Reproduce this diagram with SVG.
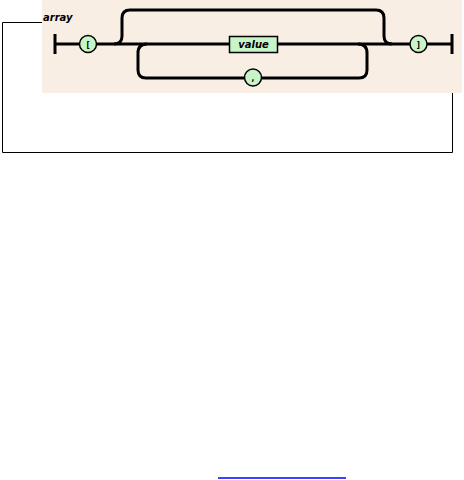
<svg xmlns="http://www.w3.org/2000/svg" width="464" height="480" viewBox="0 0 464 480">
<style>
.track{fill:none;stroke:#000;stroke-width:3}
.term{fill:#c8f5c8;stroke:#000;stroke-width:1.5}
.nt{fill:#c8f5c8;stroke:#000;stroke-width:1.5}
.lbl{font-family:"DejaVu Sans",sans-serif;font-weight:bold;font-style:italic;font-size:10px;fill:#000}
.tl{font-family:"DejaVu Sans Mono",monospace;font-weight:bold;font-size:9px;fill:#000}
.frame{fill:none;stroke:#000;stroke-width:1}
</style>
<rect x="42" y="0" width="420" height="93" fill="#f9eee4"/>
<g id="frame">
<path class="frame" d="M42,22.5 H2.5 V152.5 H452.5 V93"/>
</g>
<text class="lbl" x="43" y="21">array</text>
<g id="connectors">
<path class="track" d="M55,44 H79"/>
<path class="track" d="M97,44 H229"/>
<path class="track" d="M278,44 H410"/>
<path class="track" d="M427,44 H451"/>
<path class="track" d="M114,44 Q122,44 122,36 V18 Q122,10 130,10 H376 Q384,10 384,18 V36 Q384,44 392,44"/>
<path class="track" d="M147,44 Q138,44 138,53 V70 Q138,78 146,78 H244 M262,78 H359 Q367,78 367,70 V53 Q367,44 358,44"/>
<path d="M55,34 V54 M452,34 V54" stroke="#000" stroke-width="3"/>
</g>
<g id="open">
<ellipse class="term" cx="88" cy="44" rx="8.5" ry="8.5"/>
<text class="tl" x="88" y="47.5" text-anchor="middle">[</text>
</g>
<g id="value">
<rect class="nt" x="229.5" y="36.5" width="48" height="16"/>
<text class="lbl" x="253.5" y="48" text-anchor="middle">value</text>
</g>
<g id="comma">
<ellipse class="term" cx="253" cy="77.5" rx="8.5" ry="8.5"/>
<text class="tl" x="253" y="81" text-anchor="middle">,</text>
</g>
<g id="close">
<ellipse class="term" cx="418.5" cy="44" rx="8.5" ry="8.5"/>
<text class="tl" x="418.5" y="47.5" text-anchor="middle">]</text>
</g>
<line x1="218" y1="478" x2="346" y2="478" stroke="#0000ff" stroke-width="1.5"/>
</svg>
